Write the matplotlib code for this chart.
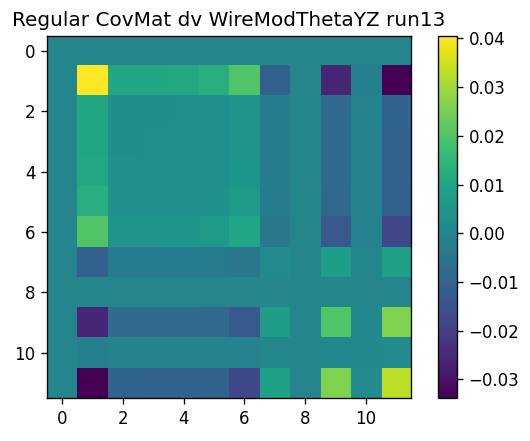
import numpy as np
import matplotlib
matplotlib.use("Agg")
import matplotlib.pyplot as plt

# covariance matrix values (symmetric, 12x12)
row0 = [0, 0, 0, 0, 0, 0, 0, 0, 0, 0, 0, 0]
row1 = [0, 0.0405, 0.0108, 0.0108, 0.0110, 0.0130, 0.0204, -0.0108, 0, -0.0258, -0.0018, -0.0338]
row2 = [0, 0.0108, 0.0033, 0.0033, 0.0034, 0.0034, 0.0050, -0.0026, 0, -0.0078, -0.0005, -0.0100]
row3 = [0, 0.0108, 0.0033, 0.0034, 0.0034, 0.0034, 0.0050, -0.0027, 0, -0.0079, -0.0005, -0.0102]
row4 = [0, 0.0110, 0.0034, 0.0034, 0.0035, 0.0035, 0.0051, -0.0027, 0, -0.0079, -0.0005, -0.0102]
row5 = [0, 0.0130, 0.0034, 0.0034, 0.0035, 0.0040, 0.0060, -0.0028, 0, -0.0085, -0.0005, -0.0108]
row6 = [0, 0.0204, 0.0050, 0.0050, 0.0051, 0.0060, 0.0100, -0.0040, 0, -0.0130, -0.0008, -0.0180]
row7 = [0, -0.0108, -0.0026, -0.0027, -0.0027, -0.0028, -0.0040, 0.0019, 0, 0.0078, 0.0004, 0.0088]
row8 = [0, 0, 0, 0, 0, 0, 0, 0, 0, 0, 0, 0]
row9 = [0, -0.0258, -0.0078, -0.0079, -0.0079, -0.0085, -0.0130, 0.0078, 0, 0.0204, 0.0010, 0.0262]
row10 = [0, -0.0018, -0.0005, -0.0005, -0.0005, -0.0005, -0.0008, 0.0004, 0, 0.0010, 0.0015, 0.0020]
row11 = [0, -0.0338, -0.0100, -0.0102, -0.0102, -0.0108, -0.0180, 0.0088, 0, 0.0262, 0.0020, 0.0330]

cov = np.array([row0, row1, row2, row3, row4, row5, row6,
                row7, row8, row9, row10, row11])

fig = plt.figure(figsize=(530 / 120, 441 / 120), dpi=120)
ax = fig.add_axes([0.0887, 0.0975, 0.6868, 0.821])
im = ax.imshow(cov, cmap="viridis", aspect="auto")
ax.set_xticks([0, 2, 4, 6, 8, 10])
ax.set_yticks([0, 2, 4, 6, 8, 10])
ax.set_title("Regular CovMat dv WireModThetaYZ run13")

cax = fig.add_axes([0.8264, 0.0975, 0.0358, 0.821])
fig.colorbar(im, cax=cax)

fig.savefig("out.png", dpi=120)
